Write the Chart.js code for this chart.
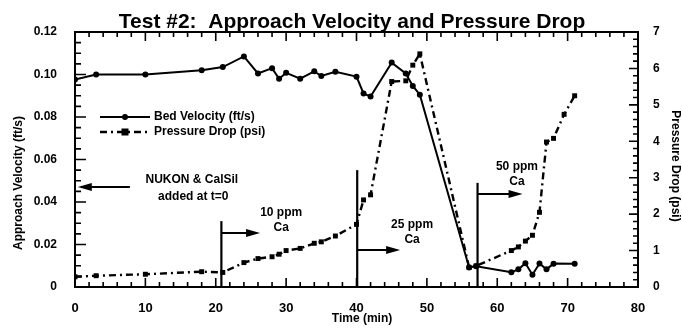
<!DOCTYPE html>
<html lang="en">
<head>
    <meta charset="UTF-8">
    <title>Test #2: Approach Velocity and Pressure Drop</title>
    <script src="https://cdn.jsdelivr.net/npm/chart.js"></script>
    <style>
        html, body { margin: 0; padding: 0; background: #fff; }
        .chart-container { position: relative; width: 682px; height: 331px; }
    </style>
</head>
<body>
    <div class="chart-container">
        <canvas id="testChart"></canvas>
    </div>

    <script>
        // Bed velocity (ft/s), left axis
        const velTime = [0, 3, 10, 18, 21, 24, 26, 28, 29, 30, 32, 34, 35, 37, 40, 41, 42, 45, 47, 48, 49, 56, 57, 62, 63, 64, 65, 66, 67, 68, 71];
        const velocity = [0.0976, 0.1, 0.1, 0.102, 0.1035, 0.1085, 0.1005, 0.103, 0.098, 0.1008, 0.098, 0.1015, 0.0993, 0.1013, 0.099, 0.0911, 0.0896, 0.1056, 0.1005, 0.0946, 0.0905, 0.0092, 0.0098, 0.0069, 0.0083, 0.0112, 0.0058, 0.0111, 0.0083, 0.011, 0.0109];

        // Pressure drop (psi), right axis
        const presTime = [0, 3, 10, 18, 21, 24, 26, 28, 29, 30, 32, 34, 35, 37, 40, 41, 42, 45, 47, 48, 49, 56, 57, 62, 63, 64, 65, 66, 67, 68, 69.5, 71];
        const pressure = [0.28, 0.31, 0.35, 0.42, 0.4, 0.67, 0.78, 0.83, 0.9, 1.0, 1.06, 1.2, 1.24, 1.4, 1.72, 2.39, 2.53, 5.64, 5.66, 6.09, 6.4, 0.54, 0.58, 1.0, 1.1, 1.26, 1.42, 2.05, 3.98, 4.08, 4.74, 5.25];

        const xTicks = [0, 10, 20, 30, 40, 50, 60, 70, 80];
        const velTicks = [0, 0.02, 0.04, 0.06, 0.08, 0.1, 0.12];
        const presTicks = [0, 1, 2, 3, 4, 5, 6, 7];

        // calcium additions: time, top of marker line (ft/s), arrow end time, arrow level, label
        const caTimes = [20.8, 40.1, 57.2];
        const caLineTop = [0.031, 0.055, 0.049];
        const caArrowEnd = [26.3, 46.2, 63.6];
        const caArrowY = [0.0254, 0.0174, 0.0438];
        const caLabels = ["10 ppm", "25 ppm", "50 ppm"];
        const caLabelPos = [[29.3, 0.0348], [47.9, 0.0292], [62.8, 0.0565]];

        const FONT = '"Liberation Sans", Arial, sans-serif';

        const framePlugin = {
            id: 'frame',
            afterDraw(chart) {
                const ctx = chart.ctx;
                const a = chart.chartArea;
                const sx = chart.scales.x, sy = chart.scales.y, sy2 = chart.scales.y2;
                ctx.save();
                ctx.strokeStyle = '#000';
                ctx.fillStyle = '#000';

                // box
                ctx.lineWidth = 2;
                ctx.strokeRect(a.left, a.top, a.right - a.left, a.bottom - a.top);

                // inward ticks
                ctx.lineWidth = 1.6;
                ctx.beginPath();
                for (let t = 0; t <= 80; t += 2) {
                    const px = sx.getPixelForValue(t);
                    const len = t % 10 === 0 ? 9 : 5;
                    ctx.moveTo(px, a.bottom); ctx.lineTo(px, a.bottom - len);
                    ctx.moveTo(px, a.top); ctx.lineTo(px, a.top + len);
                }
                for (let i = 0; i <= 24; i++) {
                    const py = sy.getPixelForValue(i * 0.005);
                    const len = i % 4 === 0 ? 11 : 6;
                    ctx.moveTo(a.left, py); ctx.lineTo(a.left + len, py);
                }
                for (let i = 0; i <= 35; i++) {
                    const py = sy2.getPixelForValue(i * 0.2);
                    const len = i % 5 === 0 ? 9 : 5;
                    ctx.moveTo(a.right, py); ctx.lineTo(a.right - len, py);
                }
                ctx.stroke();

                // title
                ctx.font = 'bold 21px ' + FONT;
                ctx.textAlign = 'center';
                ctx.textBaseline = 'alphabetic';
                ctx.fillText('Test #2:  Approach Velocity and Pressure Drop', 352, 28);

                // axis titles
                ctx.font = 'bold 12px ' + FONT;
                ctx.textBaseline = 'middle';
                ctx.fillText('Time (min)', 362, 319);
                ctx.save();
                ctx.translate(19, 183);
                ctx.rotate(-Math.PI / 2);
                ctx.fillText('Approach Velocity (ft/s)', 0, 0);
                ctx.restore();
                ctx.save();
                ctx.translate(675, 166);
                ctx.rotate(Math.PI / 2);
                ctx.fillText('Pressure Drop (psi)', 0, 0);
                ctx.restore();

                // legend
                const lx0 = 100, lx1 = 150;
                ctx.lineWidth = 2;
                ctx.beginPath();
                ctx.moveTo(lx0, 117); ctx.lineTo(lx1, 117);
                ctx.stroke();
                ctx.beginPath();
                ctx.arc(125, 117, 3, 0, Math.PI * 2);
                ctx.fill();
                ctx.setLineDash([7, 4, 2, 4]);
                ctx.lineWidth = 2.4;
                ctx.beginPath();
                ctx.moveTo(lx0, 132); ctx.lineTo(lx1, 132);
                ctx.stroke();
                ctx.setLineDash([]);
                ctx.fillRect(121.5, 128.5, 7, 7);
                ctx.textAlign = 'left';
                ctx.fillText('Bed Velocity (ft/s)', 154, 117);
                ctx.fillText('Pressure Drop (psi)', 154, 132);

                // arrow helper
                function arrow(x0, x1, y) {
                    const dir = Math.sign(x1 - x0);
                    ctx.lineWidth = 2;
                    ctx.beginPath();
                    ctx.moveTo(x0, y); ctx.lineTo(x1 - dir * 12, y);
                    ctx.stroke();
                    ctx.beginPath();
                    ctx.moveTo(x1, y);
                    ctx.lineTo(x1 - dir * 14, y - 4);
                    ctx.lineTo(x1 - dir * 14, y + 4);
                    ctx.closePath();
                    ctx.fill();
                }

                // NUKON & CalSil note
                const ny = sy.getPixelForValue(0.0471);
                arrow(sx.getPixelForValue(7.8), sx.getPixelForValue(0.4), ny);
                ctx.textAlign = 'center';
                ctx.fillText('NUKON & CalSil', sx.getPixelForValue(16.6), sy.getPixelForValue(0.0504));
                ctx.fillText('added at t=0', sx.getPixelForValue(16.8), sy.getPixelForValue(0.0424));

                // calcium additions
                caTimes.forEach((t, i) => {
                    const px = sx.getPixelForValue(t);
                    ctx.lineWidth = 2.2;
                    ctx.beginPath();
                    ctx.moveTo(px, a.bottom);
                    ctx.lineTo(px, sy.getPixelForValue(caLineTop[i]));
                    ctx.stroke();
                    arrow(px, sx.getPixelForValue(caArrowEnd[i]), sy.getPixelForValue(caArrowY[i]));
                    const lx = sx.getPixelForValue(caLabelPos[i][0]);
                    const ly = sy.getPixelForValue(caLabelPos[i][1]);
                    ctx.fillText(caLabels[i], lx, ly);
                    ctx.fillText('Ca', lx, ly + 15);
                });

                ctx.restore();
            }
        };

        const ctxLine = document.getElementById('testChart').getContext('2d');

        const testChart = new Chart(ctxLine, {
            type: 'line',
            data: {
                datasets: [
                    {
                        label: 'Bed Velocity (ft/s)',
                        data: velTime.map((t, i) => ({ x: t, y: velocity[i] })),
                        yAxisID: 'y',
                        borderColor: '#000',
                        backgroundColor: '#000',
                        borderWidth: 2,
                        pointStyle: 'circle',
                        pointRadius: 3,
                        pointBorderWidth: 0,
                        tension: 0,
                        fill: false
                    },
                    {
                        label: 'Pressure Drop (psi)',
                        data: presTime.map((t, i) => ({ x: t, y: pressure[i] })),
                        yAxisID: 'y2',
                        borderColor: '#000',
                        backgroundColor: '#000',
                        borderWidth: 2.4,
                        borderDash: [7, 4, 2, 4],
                        pointStyle: 'rect',
                        pointRadius: 3.5,
                        pointBorderWidth: 0,
                        tension: 0,
                        fill: false
                    }
                ]
            },
            options: {
                responsive: true,
                maintainAspectRatio: false,
                animation: false,
                layout: { padding: { top: 32, left: 0, right: 0, bottom: 0 } },
                plugins: {
                    legend: { display: false },
                    title: { display: false },
                    tooltip: { enabled: false }
                },
                scales: {
                    x: {
                        type: 'linear',
                        min: 0,
                        max: 80,
                        afterBuildTicks: (s) => { s.ticks = xTicks.map(v => ({ value: v })); },
                        afterFit: (s) => { s.height = 44; },
                        grid: { display: false },
                        border: { display: false },
                        ticks: { color: '#000', padding: 6, font: { family: FONT, size: 13, weight: 'bold' } }
                    },
                    y: {
                        position: 'left',
                        min: 0,
                        max: 0.12,
                        afterBuildTicks: (s) => { s.ticks = velTicks.map(v => ({ value: v })); },
                        afterFit: (s) => { s.width = 75; },
                        grid: { display: false },
                        border: { display: false },
                        ticks: { color: '#000', padding: 10, font: { family: FONT, size: 12, weight: 'bold' } }
                    },
                    y2: {
                        position: 'right',
                        min: 0,
                        max: 7,
                        afterBuildTicks: (s) => { s.ticks = presTicks.map(v => ({ value: v })); },
                        afterFit: (s) => { s.width = 44; },
                        grid: { display: false },
                        border: { display: false },
                        ticks: { color: '#000', padding: 7, font: { family: FONT, size: 12, weight: 'bold' } }
                    }
                }
            },
            plugins: [framePlugin]
        });
    </script>
</body>
</html>
